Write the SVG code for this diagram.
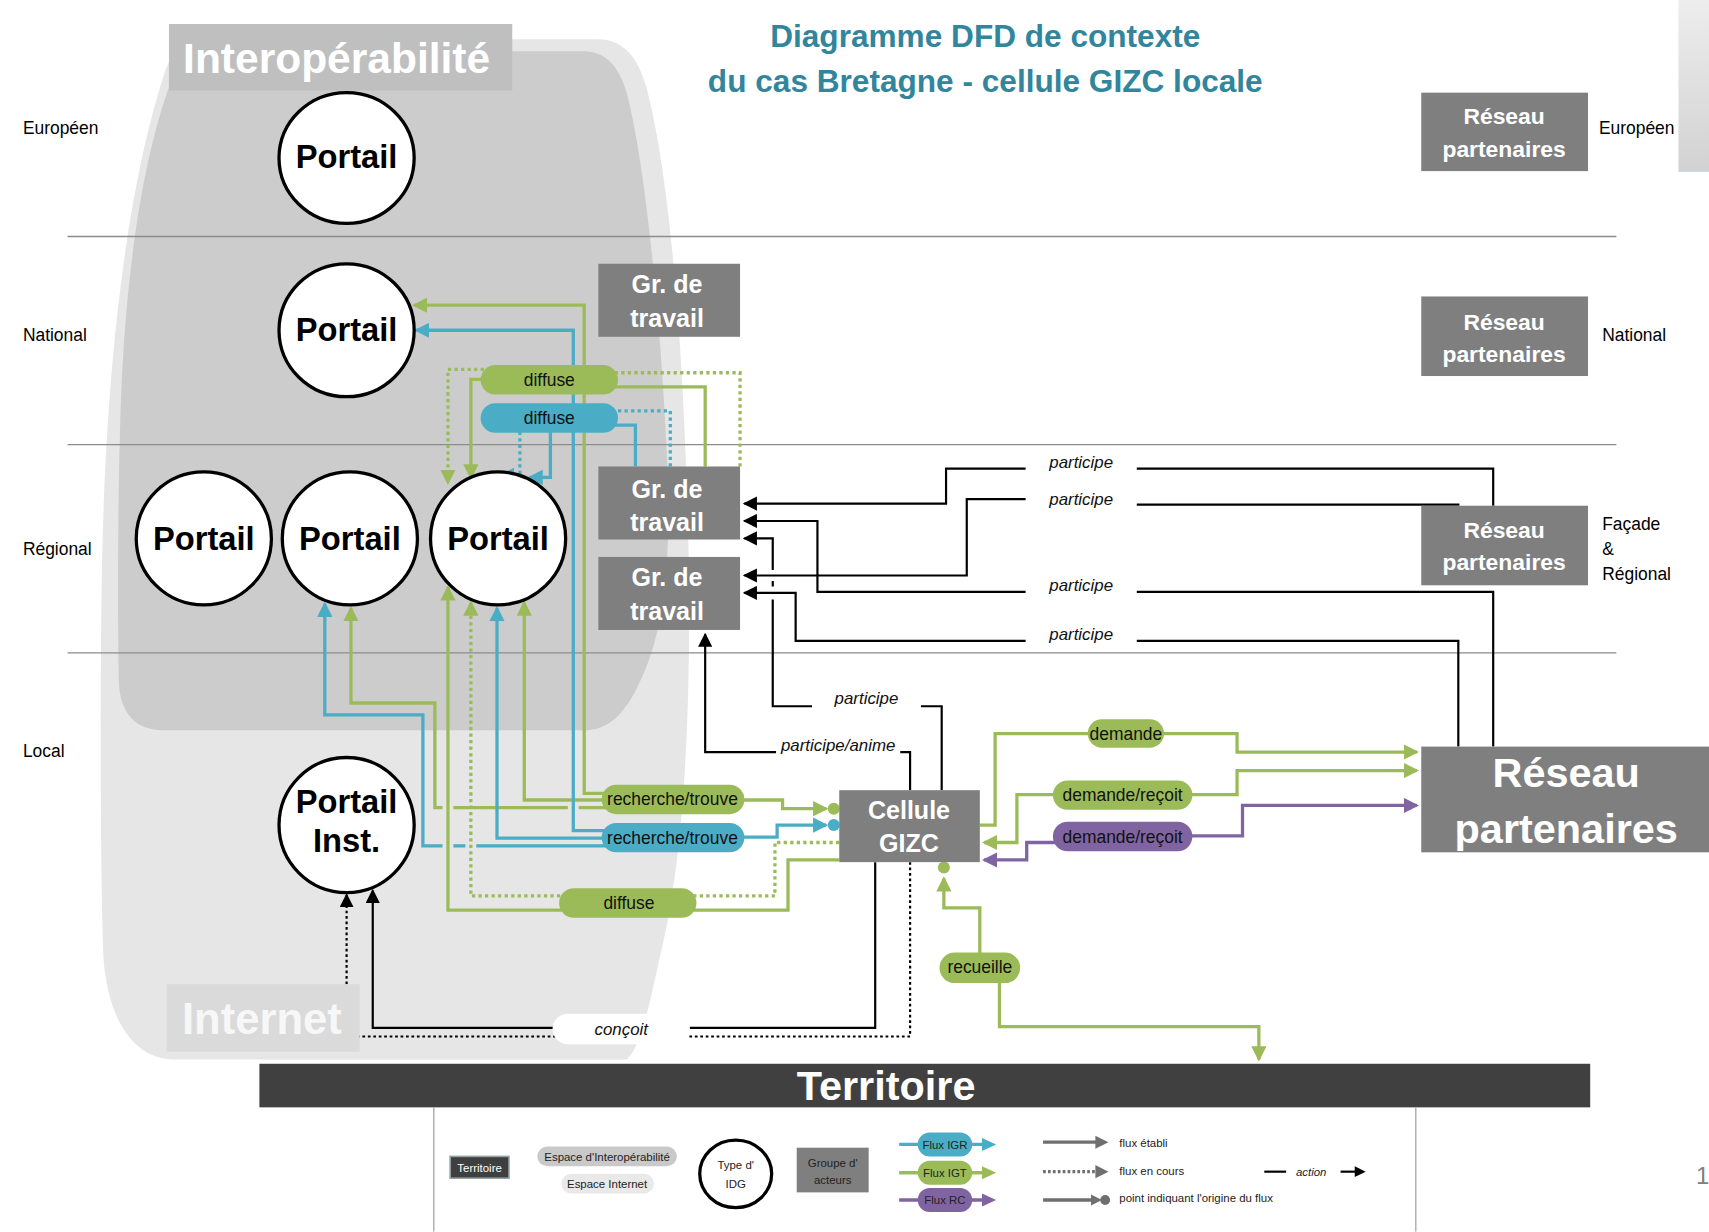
<svg xmlns="http://www.w3.org/2000/svg" width="1709" height="1232" viewBox="0 0 1709 1232">
<defs>
<style>
.txt{font-family:"Liberation Sans",Arial,sans-serif}
.lvl{font-family:"Liberation Sans",Arial,sans-serif;font-size:16px;fill:#000}
.title{font-family:"Liberation Sans",Arial,sans-serif;font-size:29px;font-weight:bold;fill:#31859C;text-anchor:middle}
.nodet{font-family:"Liberation Sans",Arial,sans-serif;font-weight:bold;fill:#fff;text-anchor:middle}
.portt{font-family:"Liberation Sans",Arial,sans-serif;font-weight:bold;fill:#000;text-anchor:middle;font-size:30px}
.pillt{font-family:"Liberation Sans",Arial,sans-serif;font-size:16px;fill:#111;text-anchor:middle}
.it{font-family:"Liberation Sans",Arial,sans-serif;font-size:15.5px;font-style:italic;fill:#111;text-anchor:middle}
.leg{font-family:"Liberation Sans",Arial,sans-serif;font-size:10.5px;fill:#222}
.circ{fill:#fff;stroke:#000;stroke-width:3}
.box{fill:#7F7F7F}
.fl{fill:none;stroke-width:3}
.g{stroke:#9BBB59}
.b{stroke:#4BACC6}
.p{stroke:#8064A2}
.bl{fill:none;stroke:#000;stroke-width:2}
.dot{stroke-dasharray:3 3}
.dotk{stroke-dasharray:2.5 2.5}
.lvline{stroke:#8C8C8C;stroke-width:1.2}
</style>
<marker id="ag" viewBox="0 0 14 14" refX="12" refY="7" markerWidth="14" markerHeight="14" markerUnits="userSpaceOnUse" orient="auto"><path d="M0,0 L14,7 L0,14 Z" fill="#9BBB59" stroke="none"/></marker>
<marker id="ab" viewBox="0 0 14 14" refX="12" refY="7" markerWidth="14" markerHeight="14" markerUnits="userSpaceOnUse" orient="auto"><path d="M0,0 L14,7 L0,14 Z" fill="#4BACC6" stroke="none"/></marker>
<marker id="ap" viewBox="0 0 14 14" refX="12" refY="7" markerWidth="14" markerHeight="14" markerUnits="userSpaceOnUse" orient="auto"><path d="M0,0 L14,7 L0,14 Z" fill="#8064A2" stroke="none"/></marker>
<marker id="ak" viewBox="0 0 13 13" refX="11.5" refY="6.5" markerWidth="13" markerHeight="13" markerUnits="userSpaceOnUse" orient="auto"><path d="M0,0 L13,6.5 L0,13 Z" fill="#000" stroke="none"/></marker>
<linearGradient id="strip" x1="0" y1="0" x2="0" y2="1"><stop offset="0" stop-color="#EDEDED"/><stop offset="1" stop-color="#D2D2D2"/></linearGradient>
</defs>
<rect x="0" y="0" width="1709" height="1232" fill="#fff"/>
<g transform="scale(1.08992)">
<!-- background spaces -->
<g id="spaces">
<path d="M180,36 L548,36 C572,36 585,52 593,80 C612,150 628,300 632,520 C634,680 625,800 605,880 C595,925 588,960 575,972 L160,972 C125,972 100,940 95,880 C92,800 92,650 93,560 C95,330 118,170 150,70 C157,48 167,36 180,36 Z" fill="#E6E6E6"/>
<path d="M180,47 L535,47 C557,47 568,62 575,85 C592,150 606,290 612,420 C616,520 610,580 585,630 C570,660 555,670 535,670 L150,670 C125,670 110,655 109,625 C108,560 108,470 110,400 C113,260 130,150 155,80 C162,58 170,47 180,47 Z" fill="#CCCCCC"/>
<rect x="155" y="22" width="315" height="61" fill="#BFBFBF"/>
<text x="168" y="67" class="txt" font-size="39" font-weight="bold" fill="#fff">Interopérabilité</text>
</g>
<rect x="1540" y="0" width="28" height="157" fill="url(#strip)"/>
<line x1="1540" y1="157" x2="1568" y2="157" stroke="#C9D5E6" stroke-width="1.5"/>
<g id="levels">
<line class="lvline" x1="62" y1="217" x2="1483" y2="217"/>
<line class="lvline" x1="62" y1="408" x2="1483" y2="408"/>
<line class="lvline" x1="62" y1="599" x2="1483" y2="599"/>
<text class="lvl" x="21" y="123">Européen</text>
<text class="lvl" x="21" y="313">National</text>
<text class="lvl" x="21" y="509">Régional</text>
<text class="lvl" x="21" y="695">Local</text>
<text class="lvl" x="1467" y="123">Européen</text>
<text class="lvl" x="1470" y="313">National</text>
<text class="lvl" x="1470" y="486">Façade</text>
<text class="lvl" x="1470" y="509">&amp;</text>
<text class="lvl" x="1470" y="532">Régional</text>
</g>
<g id="title">
<text class="title" x="904" y="43">Diagramme DFD de contexte</text>
<text class="title" x="904" y="84">du cas Bretagne - cellule GIZC locale</text>
</g>
<!-- connectors -->
<g id="connectors">
<!-- green solid -->
<path class="fl g" d="M560,728 H536 V280 H380" marker-end="url(#ag)"/>
<path class="fl g" d="M560,734 H481 V553" marker-end="url(#ag)"/>
<path class="fl g" d="M560,741 H531 M521,741 H416 M406,741 H399 V645 H322 V558" marker-end="url(#ag)"/>
<path class="fl g" d="M520,835 H411 V539" marker-end="url(#ag)"/>
<path class="fl g" d="M770,789 H723 V835 H630"/>
<path class="fl g" d="M675,734 H718 V742 H758" marker-end="url(#ag)"/>
<path class="fl g" d="M450,348 H432 V438" marker-end="url(#ag)"/>
<path class="fl g" d="M647,428 V355 H560"/>
<path class="fl g" d="M899,757 H913 V673 H1000"/>
<path class="fl g" d="M1066,673 H1135 V690 H1300" marker-end="url(#ag)"/>
<path class="fl g" d="M1090,729 H1135 V707 H1300" marker-end="url(#ag)"/>
<path class="fl g" d="M970,729 H933 V773 H903" marker-end="url(#ag)"/>
<path class="fl g" d="M899,880 V833 H866 V806" marker-end="url(#ag)"/>
<path class="fl g" d="M917,898 V942 H1155 V972" marker-end="url(#ag)"/>
<!-- green dotted -->
<path class="fl g dot" d="M520,822 H432 V553" marker-end="url(#ag)"/>
<path class="fl g dot" d="M770,773 H711 V822 H630"/>
<path class="fl g dot" d="M450,339 H411 V443" marker-end="url(#ag)"/>
<path class="fl g dot" d="M679,428 V342 H560"/>
<!-- blue -->
<path class="fl b" d="M560,762 H526 V303 H382" marker-end="url(#ab)"/>
<path class="fl b" d="M560,769 H456 V558" marker-end="url(#ab)"/>
<path class="fl b" d="M560,776 H437 M427,776 H416 M406,776 H388 V656 H298 V554" marker-end="url(#ab)"/>
<path class="fl b" d="M675,768 H713 V757 H758" marker-end="url(#ab)"/>
<path class="fl b" d="M505,390 V438 H486" marker-end="url(#ab)"/>
<path class="fl b" d="M583,428 V390 H560"/>
<path class="fl b dot" d="M477,390 V436 H460" marker-end="url(#ab)"/>
<path class="fl b dot" d="M615,428 V377 H560"/>
<!-- purple -->
<path class="fl p" d="M1090,767 H1140 V739 H1300" marker-end="url(#ap)"/>
<path class="fl p" d="M970,773 H942 V789 H903" marker-end="url(#ap)"/>
<!-- origin dots -->
<circle cx="765" cy="742" r="5.5" fill="#9BBB59"/>
<circle cx="765" cy="757" r="5.5" fill="#4BACC6"/>
<circle cx="866" cy="796" r="5.5" fill="#9BBB59"/>
<!-- black actions -->
<path class="bl" d="M803,791 V943 H342 V817" marker-end="url(#ak)"/>
<path class="bl dotk" d="M835,791 V951 H318 V821" marker-end="url(#ak)"/>
<path class="bl" d="M835,725 V690 H826"/>
<path class="bl" d="M712,690 H647 V582" marker-end="url(#ak)"/>
<path class="bl" d="M864,725 V648 H845"/>
<path class="bl" d="M745,648 H709 V550 M709,538 V533 M709,523 V494 H683" marker-end="url(#ak)"/>
<path class="bl" d="M1370,464 V430 H1043"/>
<path class="bl" d="M941,430 H868 V462 H683" marker-end="url(#ak)"/>
<path class="bl" d="M1339,463 H1043"/>
<path class="bl" d="M941,458 H887 V528 H683" marker-end="url(#ak)"/>
<path class="bl" d="M1370,685 V543 H1043"/>
<path class="bl" d="M941,543 H750 V478 H683" marker-end="url(#ak)"/>
<path class="bl" d="M1338,685 V588 H1043"/>
<path class="bl" d="M941,588 H730 V544 H683" marker-end="url(#ak)"/>
<!-- action labels -->
<text class="it" x="992" y="429">participe</text>
<text class="it" x="992" y="463">participe</text>
<text class="it" x="992" y="542">participe</text>
<text class="it" x="992" y="587">participe</text>
<text class="it" x="795" y="646">participe</text>
<text class="it" x="769" y="689">participe/anime</text>
</g>
<g id="internet-space">
<rect x="153" y="903" width="177" height="62" fill="#DADADA"/>
<text x="167" y="949" class="txt" font-size="40" font-weight="bold" fill="#F7F7F7">Internet</text>
</g>
<!-- flow labels (pills) -->
<g id="flow-labels">
<rect x="441" y="335" width="126" height="27" rx="13.5" fill="#9BBB59"/>
<text class="pillt" x="504" y="354">diffuse</text>
<rect x="441" y="370" width="126" height="27" rx="13.5" fill="#4BACC6"/>
<text class="pillt" x="504" y="389">diffuse</text>
<rect x="552" y="720" width="131" height="27" rx="13.5" fill="#9BBB59"/>
<text class="pillt" x="617" y="739">recherche/trouve</text>
<rect x="552" y="755" width="131" height="27" rx="13.5" fill="#4BACC6"/>
<text class="pillt" x="617" y="774">recherche/trouve</text>
<rect x="513" y="815" width="126" height="27" rx="13.5" fill="#9BBB59"/>
<text class="pillt" x="577" y="834">diffuse</text>
<rect x="998" y="660" width="70" height="26" rx="13" fill="#9BBB59"/>
<text class="pillt" x="1033" y="678.5">demande</text>
<rect x="966" y="716" width="128" height="27" rx="13.5" fill="#9BBB59"/>
<text class="pillt" x="1030" y="735">demande/reçoit</text>
<rect x="966" y="754" width="128" height="27" rx="13.5" fill="#8064A2"/>
<text class="pillt" x="1030" y="773">demande/reçoit</text>
<rect x="862" y="874" width="74" height="28" rx="14" fill="#9BBB59"/>
<text class="pillt" x="899" y="893">recueille</text>
<rect x="507" y="930" width="126" height="28" rx="14" fill="#fff"/>
<text class="it" x="570" y="950">conçoit</text>
</g>
<!-- nodes -->
<g id="portail-europeen"><ellipse class="circ" cx="318" cy="145" rx="62" ry="60"/><text class="portt" x="318" y="154">Portail</text></g>
<g id="portail-national"><ellipse class="circ" cx="318" cy="303" rx="62" ry="61"/><text class="portt" x="318" y="313">Portail</text></g>
<g id="portail-regional-1"><ellipse class="circ" cx="187" cy="494" rx="62" ry="61"/><text class="portt" x="187" y="505">Portail</text></g>
<g id="portail-regional-2"><ellipse class="circ" cx="321" cy="494" rx="62" ry="61"/><text class="portt" x="321" y="505">Portail</text></g>
<g id="portail-regional-3"><ellipse class="circ" cx="457" cy="494" rx="62" ry="61"/><text class="portt" x="457" y="505">Portail</text></g>
<g id="portail-inst"><ellipse class="circ" cx="318" cy="757" rx="62" ry="62"/><text class="portt" x="318" y="746" font-size="25">Portail</text><text class="portt" x="318" y="782" font-size="25">Inst.</text></g>
<g id="gr-travail-national"><rect class="box" x="549" y="242" width="130" height="67"/><text class="nodet" x="612" y="269" font-size="23">Gr. de</text><text class="nodet" x="612" y="300" font-size="23">travail</text></g>
<g id="gr-travail-regional-1"><rect class="box" x="549" y="428" width="130" height="67"/><text class="nodet" x="612" y="457" font-size="23">Gr. de</text><text class="nodet" x="612" y="487" font-size="23">travail</text></g>
<g id="gr-travail-regional-2"><rect class="box" x="549" y="511" width="130" height="67"/><text class="nodet" x="612" y="538" font-size="23">Gr. de</text><text class="nodet" x="612" y="569" font-size="23">travail</text></g>
<g id="cellule-gizc"><rect class="box" x="770" y="725" width="129" height="66"/><text class="nodet" x="834" y="751" font-size="23">Cellule</text><text class="nodet" x="834" y="782" font-size="23">GIZC</text></g>
<g id="reseau-europeen"><rect class="box" x="1304" y="85" width="153" height="72"/><text class="nodet" x="1380" y="114" font-size="21">Réseau</text><text class="nodet" x="1380" y="144" font-size="21">partenaires</text></g>
<g id="reseau-national"><rect class="box" x="1304" y="272" width="153" height="73"/><text class="nodet" x="1380" y="303" font-size="21">Réseau</text><text class="nodet" x="1380" y="332" font-size="21">partenaires</text></g>
<g id="reseau-regional"><rect class="box" x="1304" y="464" width="153" height="73"/><text class="nodet" x="1380" y="494" font-size="21">Réseau</text><text class="nodet" x="1380" y="523" font-size="21">partenaires</text></g>
<g id="reseau-local"><rect class="box" x="1304" y="685" width="264" height="97"/><text class="nodet" x="1437" y="722" font-size="38">Réseau</text><text class="nodet" x="1437" y="773" font-size="38">partenaires</text></g>
<g id="territoire"><rect x="238" y="976" width="1221" height="40" fill="#404040"/><text class="nodet" x="813" y="1009" font-size="38">Territoire</text></g>
<!-- legend -->
<g id="legend">
<line x1="398" y1="1016" x2="398" y2="1130" stroke="#A6A6A6" stroke-width="1.2"/>
<line x1="1299" y1="1016" x2="1299" y2="1130" stroke="#A6A6A6" stroke-width="1.2"/>
<rect x="413" y="1061" width="54" height="20" fill="#3F3F3F" stroke="#93A3A3" stroke-width="1.5"/>
<text class="leg" x="440" y="1075" text-anchor="middle" font-size="10" style="fill:#fff">Territoire</text>
<rect x="493" y="1052" width="128" height="18" rx="9" fill="#C9C9C9"/>
<text class="leg" x="557" y="1065" text-anchor="middle">Espace d'Interopérabilité</text>
<rect x="515" y="1077" width="85" height="18" rx="9" fill="#E9E9E9"/>
<text class="leg" x="557" y="1090" text-anchor="middle">Espace Internet</text>
<ellipse class="circ" cx="675" cy="1077" rx="33" ry="31"/>
<text class="leg" x="675" y="1073" text-anchor="middle">Type d'</text>
<text class="leg" x="675" y="1090" text-anchor="middle">IDG</text>
<rect x="731" y="1053" width="66" height="41" fill="#7F7F7F"/>
<text class="leg" x="764" y="1071" text-anchor="middle">Groupe d'</text>
<text class="leg" x="764" y="1086" text-anchor="middle">acteurs</text>
<line x1="825" y1="1050" x2="903" y2="1050" stroke="#4BACC6" stroke-width="3"/>
<polygon points="901,1044 914,1050 901,1056" fill="#4BACC6"/>
<rect x="842" y="1039" width="50" height="22" rx="11" fill="#4BACC6"/>
<text class="leg" x="867" y="1054" text-anchor="middle">Flux IGR</text>
<line x1="825" y1="1076" x2="903" y2="1076" stroke="#9BBB59" stroke-width="3"/>
<polygon points="901,1070 914,1076 901,1082" fill="#9BBB59"/>
<rect x="842" y="1065" width="50" height="22" rx="11" fill="#9BBB59"/>
<text class="leg" x="867" y="1080" text-anchor="middle">Flux IGT</text>
<line x1="825" y1="1101" x2="903" y2="1101" stroke="#8064A2" stroke-width="3"/>
<polygon points="901,1095 914,1101 901,1107" fill="#8064A2"/>
<rect x="842" y="1090" width="50" height="22" rx="11" fill="#8064A2"/>
<text class="leg" x="867" y="1105" text-anchor="middle">Flux RC</text>
<line x1="957" y1="1048" x2="1006" y2="1048" stroke="#6F6F6F" stroke-width="3"/>
<polygon points="1005,1042 1017,1048 1005,1054" fill="#6F6F6F"/>
<text class="leg" x="1027" y="1052">flux établi</text>
<line x1="957" y1="1075" x2="1006" y2="1075" stroke="#6F6F6F" stroke-width="3" stroke-dasharray="2.5 2"/>
<polygon points="1005,1069 1017,1075 1005,1081" fill="#6F6F6F"/>
<text class="leg" x="1027" y="1078">flux en cours</text>
<line x1="957" y1="1101" x2="1003" y2="1101" stroke="#6F6F6F" stroke-width="3"/>
<polygon points="1001,1096 1011,1101 1001,1106" fill="#6F6F6F"/>
<circle cx="1014" cy="1101" r="4.5" fill="#6F6F6F"/>
<text class="leg" x="1027" y="1103">point indiquant l'origine du flux</text>
<line x1="1160" y1="1075" x2="1180" y2="1075" stroke="#000" stroke-width="2"/>
<text class="leg" x="1189" y="1079" font-style="italic">action</text>
<line x1="1230" y1="1075" x2="1244" y2="1075" stroke="#000" stroke-width="2"/>
<polygon points="1243,1070 1253,1075 1243,1080" fill="#000"/>
</g>
<text x="1556" y="1086" class="txt" font-size="22" fill="#7F7F7F">1</text>
</g>
</svg>
